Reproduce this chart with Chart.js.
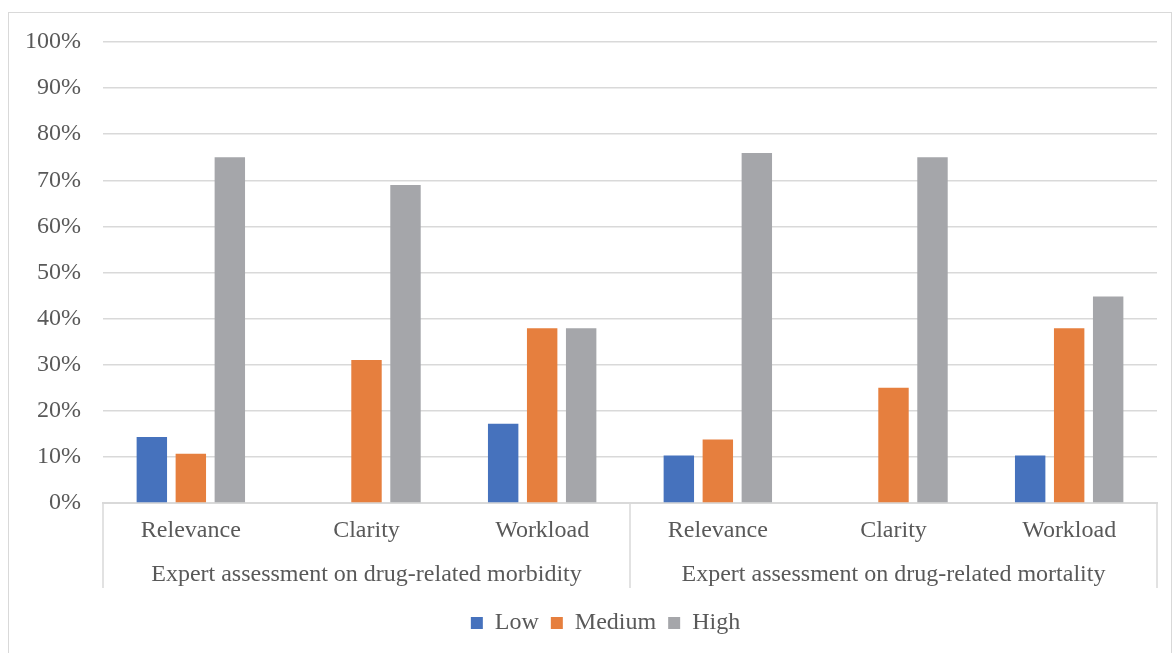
<!DOCTYPE html>
<html>
<head>
<meta charset="utf-8">
<script src="https://cdn.jsdelivr.net/npm/chart.js@4"></script>
<style>
  html, body { margin: 0; padding: 0; background: #fff; }
  #wrap { width: 1174px; height: 653px; position: relative; }
</style>
</head>
<body>
<div id="wrap"><canvas id="myChart" width="1174" height="653"></canvas></div>
<script>
const groups = ["Expert assessment on drug-related morbidity", "Expert assessment on drug-related mortality"];
const groupSizes = [3, 3];
const categories = ["Relevance", "Clarity", "Workload", "Relevance", "Clarity", "Workload"];

const lowArr = [14.3, 0, 17.2, 10.3, 0, 10.3];
const mediumArr = [10.7, 31.0, 37.9, 13.8, 25.0, 37.9];
const highArr = [75.0, 69.0, 37.9, 75.9, 75.0, 44.8];

const textColor = "#595959";
const lineColor = "#D9D9D9";
const fontFamily = "'Liberation Serif', 'Times New Roman', serif";
const fontSize = 24;

// outer frame + separators and group names under the category axis
const groupAxis = {
  id: "groupAxis",
  afterLayout(chart) {
    // legend sits a little right of centre
    chart.legend.left += 27;
    chart.legend.right += 27;
  },
  afterDraw(chart) {
    const c = chart.ctx;
    const x = chart.scales.x;
    const top = chart.chartArea.bottom;
    const bottom = top + 85;
    const w = x.width / categories.length;

    c.save();
    c.strokeStyle = lineColor;
    c.lineWidth = 1.5;

    let start = 0;
    const edges = [x.left];
    groupSizes.forEach((n) => {
      start += n;
      edges.push(x.left + start * w);
    });
    edges.forEach((px) => {
      c.beginPath();
      c.moveTo(px, top);
      c.lineTo(px, bottom);
      c.stroke();
    });

    c.fillStyle = textColor;
    c.font = fontSize + "px " + fontFamily;
    c.textAlign = "center";
    c.textBaseline = "middle";
    groups.forEach((g, i) => {
      c.fillText(g, (edges[i] + edges[i + 1]) / 2, top + 72);
    });

    // chart frame
    c.lineWidth = 1;
    c.strokeRect(8.5, 12.5, 1163, 700);
    c.restore();
  },
};

const ctx = document.getElementById("myChart").getContext("2d");

const myChart = new Chart(ctx, {
  type: "bar",
  data: {
    labels: categories,
    datasets: [
      { label: "Low", data: lowArr, backgroundColor: "#4672BD" },
      { label: "Medium", data: mediumArr, backgroundColor: "#E67F3E" },
      { label: "High", data: highArr, backgroundColor: "#A5A6AA" },
    ],
  },
  options: {
    responsive: false,
    animation: false,
    categoryPercentage: 0.666,
    barPercentage: 0.78,
    layout: {
      padding: { top: 42, right: 17, left: 0, bottom: 8 },
    },
    plugins: {
      legend: {
        position: "bottom",
        labels: {
          color: textColor,
          font: { family: fontFamily, size: fontSize },
          boxWidth: 12,
          boxHeight: 12,
          padding: 12,
        },
      },
      tooltip: { enabled: false },
    },
    scales: {
      x: {
        grid: { display: false, drawTicks: false },
        border: { display: true, color: lineColor, width: 2 },
        ticks: {
          color: textColor,
          font: { family: fontFamily, size: fontSize },
          padding: 13,
          maxRotation: 0,
          autoSkip: false,
        },
        afterFit(scale) {
          scale.height = 96;
        },
      },
      y: {
        min: 0,
        max: 100,
        grid: { color: lineColor, lineWidth: 1.5, drawTicks: false },
        border: { display: false },
        ticks: {
          stepSize: 10,
          color: textColor,
          font: { family: fontFamily, size: fontSize },
          padding: 22,
          callback: (v) => v + "%",
        },
        afterFit(scale) {
          scale.width = 103;
        },
      },
    },
  },
  plugins: [groupAxis],
});
</script>
</body>
</html>
